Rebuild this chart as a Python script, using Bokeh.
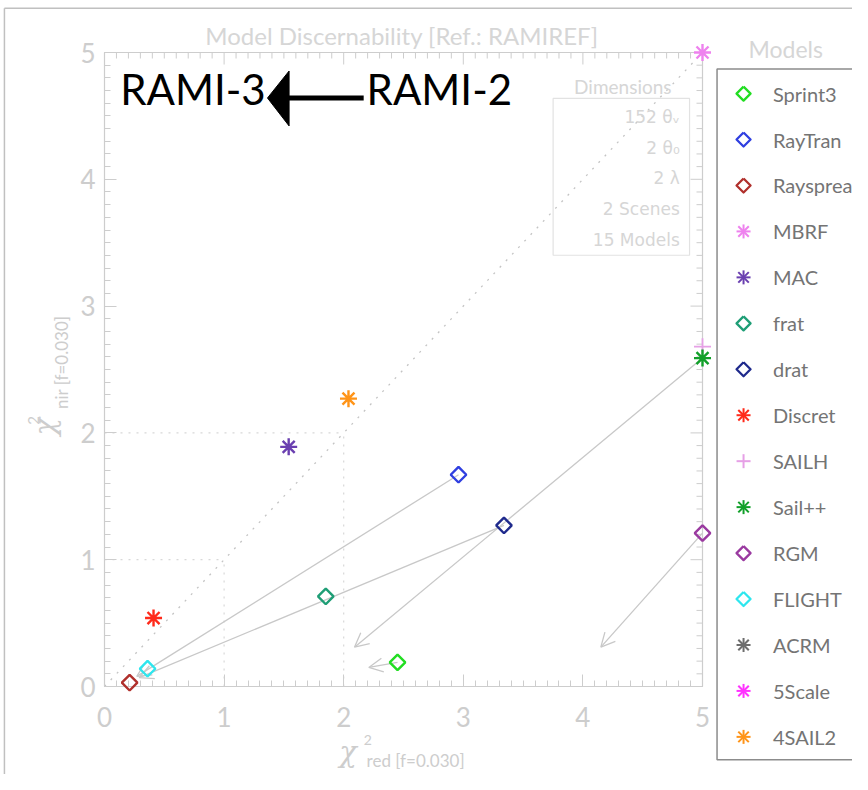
import math
from bokeh.plotting import figure
from bokeh.models import Range1d, SingleIntervalTicker, Arrow, OpenHead
from bokeh.core.properties import value
from bokeh.embed import file_html
from bokeh.resources import INLINE

nan = float("nan")

# ---------------- data ----------------
models = ["Sprint3", "RayTran", "Rayspread", "MBRF", "MAC", "frat", "drat", "Discret",
          "SAILH", "Sail++", "RGM", "FLIGHT", "ACRM", "5Scale", "4SAIL2"]
chi2_red = [2.45, 2.96, 0.21, 5.00, 1.54, 1.85, 3.34, 0.41, 5.00, 5.00, 5.00, 0.36, nan, nan, 2.04]
chi2_nir = [0.19, 1.67, 0.03, 5.00, 1.89, 0.71, 1.27, 0.54, 2.68, 2.59, 1.21, 0.14, nan, nan, 2.27]
markers = ["diamond", "diamond", "diamond", "asterisk", "asterisk", "diamond", "diamond",
           "asterisk", "cross", "asterisk", "diamond", "diamond", "asterisk", "asterisk", "asterisk"]
colors = ["#22dd22", "#2f3fe0", "#b0302c", "#ee82ee", "#6a3fb0", "#1f9e76", "#1f2a8c",
          "#ff2a1a", "#e6a0e6", "#12a02a", "#9a3aa0", "#2ee6ee", "#6e6e6e", "#ff33ff", "#ff9418"]

# shifts RAMI-2 -> RAMI-3 (arrows)
arrow_x0 = [2.96, 3.34, 5.00, 5.00, 2.45]
arrow_y0 = [1.67, 1.27, 2.59, 1.21, 0.19]
arrow_x1 = [0.27, 0.29, 2.09, 4.15, 2.21]
arrow_y1 = [0.08, 0.07, 0.31, 0.31, 0.15]

ref_levels = [1, 2]
axis_ticks = [0, 1, 2, 3, 4, 5]
minor_ticks = [a + k / 10.0 for a in axis_ticks[:-1] for k in range(1, 10)]

dims_labels = ["152 \u03b8\u1d65", "2 \u03b8\u2080", "2 \u03bb", "2 Scenes", "15 Models"]

# ---------------- layout (reference picture px scaled to the figure) ----------------
W, H = 852, 774
SX, SY = W / 868.0, H / 790.0
FL, FT = 104, 52
FW, FH = 598, 634
BR, BB = W - FL - FW, H - FT - FH
XS = FW / 5.0
YS = FH / 5.0


def ix(px):   # reference px -> data x
    return (px * SX - FL) / XS


def iy(py):   # reference px -> data y
    return (FT + FH - py * SY) / YS


LIGHT = "#cdcdcd"
p = figure(frame_width=FW, frame_height=FH, min_border_left=FL, min_border_top=FT,
           min_border_right=BR, min_border_bottom=BB,
           x_range=Range1d(axis_ticks[0], axis_ticks[-1]),
           y_range=Range1d(axis_ticks[0], axis_ticks[-1]),
           output_backend="svg", toolbar_location=None,
           background_fill_color="white", border_fill_color="white")
p.outline_line_color = LIGHT
p.outline_line_width = 1.2
p.grid.visible = False

for ax in list(p.xaxis) + list(p.yaxis):
    ax.ticker = SingleIntervalTicker(interval=1, num_minor_ticks=10)
    ax.axis_line_color = LIGHT
    ax.major_tick_line_color = LIGHT
    ax.minor_tick_line_color = LIGHT
    ax.major_tick_in = 12
    ax.major_tick_out = 0
    ax.minor_tick_in = 6
    ax.minor_tick_out = 0
    ax.major_label_text_color = LIGHT
    ax.major_label_text_font = "Lato"
    ax.major_label_text_font_size = "26px"
p.xaxis.major_label_standoff = 20
p.yaxis.major_label_standoff = 9

# ticks on the top and right sides (IDL style box)
tick_kw = dict(line_color=LIGHT, line_width=1, level="overlay")
TOP, RIGHT = axis_ticks[-1], axis_ticks[-1]
p.segment(x0=axis_ticks, x1=axis_ticks, y0=[TOP] * 6, y1=[TOP - 12 / YS] * 6, **tick_kw)
p.segment(x0=minor_ticks, x1=minor_ticks, y0=[TOP] * len(minor_ticks),
          y1=[TOP - 6 / YS] * len(minor_ticks), **tick_kw)
p.segment(y0=axis_ticks, y1=axis_ticks, x0=[RIGHT] * 6, x1=[RIGHT - 12 / XS] * 6, **tick_kw)
p.segment(y0=minor_ticks, y1=minor_ticks, x0=[RIGHT] * len(minor_ticks),
          x1=[RIGHT - 6 / XS] * len(minor_ticks), **tick_kw)


def txt(x, y, s, size, color, font="Lato", align="left", baseline="middle", angle=0.0,
        style="normal"):
    p.text(x=[x], y=[y], text=[s], text_font=value(font), text_font_size=value(size),
           text_color=color, text_align=align, text_baseline=baseline, angle=angle,
           text_font_style=style, level="overlay")


# reference dotted lines: 1:1 diagonal and boxes
p.line([axis_ticks[0], axis_ticks[-1]], [axis_ticks[0], axis_ticks[-1]],
       line_color="#c4c4c4", line_dash="2 7", line_width=1.3, level="underlay")
for lv in ref_levels:
    p.line([lv, lv], [0, lv], line_color="#d8d8d8", line_dash="2 6", line_width=1.2, level="underlay")
    p.line([0, lv], [lv, lv], line_color="#d8d8d8", line_dash="2 6", line_width=1.2, level="underlay")

# arrows
for x0, y0, x1, y1 in zip(arrow_x0, arrow_y0, arrow_x1, arrow_y1):
    p.add_layout(Arrow(x_start=x0, y_start=y0, x_end=x1, y_end=y1,
                       line_color="#c8c8c8", line_width=1.3,
                       end=OpenHead(size=14, line_color="#c8c8c8", line_width=1.3),
                       level="underlay"))

# model points
for x, y, m, c in zip(chi2_red, chi2_nir, markers, colors):
    if m == "diamond":
        r = p.scatter([x], [y], marker="square", angle=math.pi / 4, size=11,
                      fill_color=None, line_color=c, line_width=2.4)
    elif m == "cross":
        r = p.scatter([x], [y], marker="cross", size=17, line_color=c, line_width=1.8)
    else:
        r = p.scatter([x], [y], marker="asterisk", size=17, line_color=c, line_width=2.4)
    r.level = "overlay"


# legend (drawn by hand so that it may sit outside the frame like the original)
def legend_symbol(cx, cy, m, c, h=7.0):
    dx, dy = h / XS, h / YS
    if m == "diamond":
        p.line([cx, cx + dx, cx, cx - dx, cx], [cy + dy, cy, cy - dy, cy, cy + dy],
               line_color=c, line_width=2.3, line_join="round", level="overlay")
        return
    p.line([cx, cx], [cy - dy, cy + dy], line_color=c, line_width=2.0, level="overlay")
    p.line([cx - dx, cx + dx], [cy, cy], line_color=c, line_width=2.0, level="overlay")
    if m == "asterisk":
        f = 0.75
        p.line([cx - f * dx, cx + f * dx], [cy - f * dy, cy + f * dy], line_color=c,
               line_width=2.0, level="overlay")
        p.line([cx - f * dx, cx + f * dx], [cy + f * dy, cy - f * dy], line_color=c,
               line_width=2.0, level="overlay")


LEG_TOP, LEG_BOT, LEG_LEFT, ROW0, ROWSTEP = 70, 775, 730, 95, 46.9
p.quad(left=ix(LEG_LEFT), right=ix(900), top=iy(LEG_TOP), bottom=iy(LEG_BOT),
       fill_color="white", line_color="#8c8c8c", line_width=1.5, level="overlay")
for k, (name, m, c) in enumerate(zip(models, markers, colors)):
    yk = ROW0 + k * ROWSTEP
    legend_symbol(ix(757), iy(yk), m, c)
    txt(ix(787), iy(yk), name, "20px", "#747474")

# title & headings
txt(ix(409), iy(36), "Model Discernability [Ref.: RAMIREF]", "24px", "#d6d6d6", align="center")
txt(ix(800), iy(50), "Models", "23px", "#d6d6d6", align="center")

# dimensions box
p.quad(left=ix(563), right=ix(702), top=iy(100), bottom=iy(260), fill_color=None,
       line_color="#e2e2e2", line_width=1.2, level="overlay")
txt(ix(634), iy(88), "Dimensions", "19px", "#d6d6d6", align="center")
for k, t in enumerate(dims_labels):
    txt(ix(692), iy(119 + k * 31.3), t, "17px", "#d6d6d6", font="DejaVu Sans", align="right")

# axis titles
txt(ix(345), iy(767), "\u03c7", "29px", LIGHT, font="DejaVu Serif", style="italic")
txt(ix(370), iy(755), "2", "14px", LIGHT)
txt(ix(373), iy(776), "red [f=0.030]", "17px", LIGHT)

txt(ix(45), iy(444), "\u03c7", "29px", LIGHT, font="DejaVu Serif", style="italic",
    angle=math.pi / 2)
txt(ix(34), iy(433), "2", "15px", LIGHT, angle=math.pi / 2)
txt(ix(62), iy(417), "nir [f=0.030]", "17px", LIGHT, angle=math.pi / 2)

# RAMI-3 <--- RAMI-2 overlay
txt(ix(122), iy(90), "RAMI-3", "42px", "black")
txt(ix(373), iy(90), "RAMI-2", "42px", "black")
p.line([ix(290), ix(370)], [iy(99.5), iy(99.5)], line_color="black", line_width=5, level="overlay")
p.patch([ix(272), ix(294), ix(294)], [iy(99.5), iy(72), iy(128)], fill_color="black",
        line_color="black", level="overlay")

# outer frame lines of the original picture
p.line([ix(4), ix(870)], [iy(8), iy(8)], line_color="#c0c0c0", line_width=1.5, level="overlay")
p.line([ix(4), ix(4)], [iy(8), iy(795)], line_color="#c0c0c0", line_width=1.5, level="overlay")

open("out.html", "w").write(file_html(p, INLINE))
